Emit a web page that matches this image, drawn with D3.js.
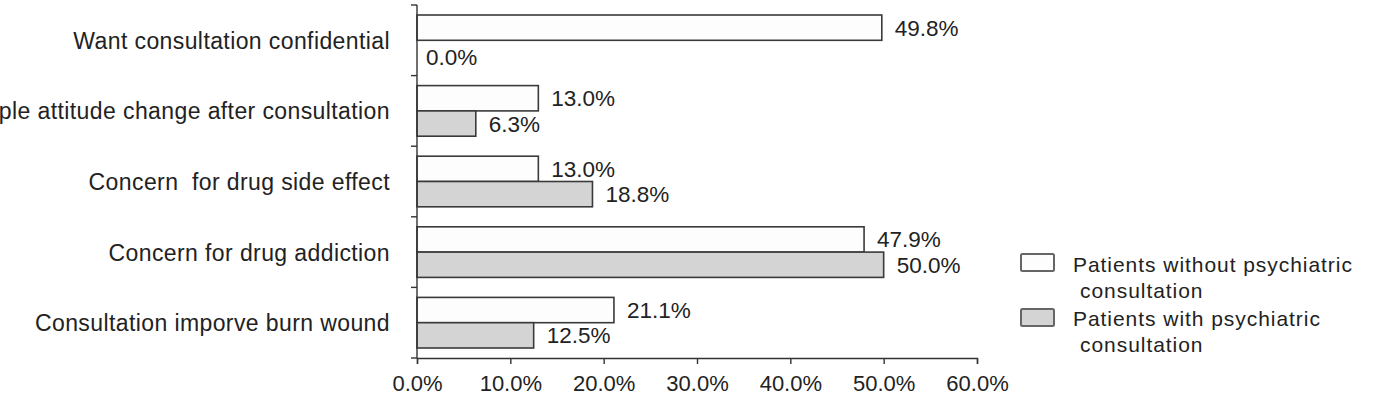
<!DOCTYPE html>
<html>
<head>
<meta charset="utf-8">
<script src="https://cdn.jsdelivr.net/npm/d3@7"></script>
<style>
  html, body { margin: 0; padding: 0; background: #fff; }
  svg { display: block; font-family: "Liberation Sans", Arial, sans-serif; }
  svg text { white-space: pre; }
  .axis text { fill: #222; }
  .axis path, .axis line { stroke: #333; stroke-width: 1.4; }
</style>
</head>
<body>
<div id="chart"></div>
<script>
// Reasons reported, top to bottom
const categories = [
  "Want consultation confidential",
  "People attitude change after consultation",
  "Concern  for drug side effect",
  "Concern for drug addiction",
  "Consultation imporve burn wound"
];
const withoutConsult = [49.8, 13.0, 13.0, 47.9, 21.1];
const withConsult = [0.0, 6.3, 18.8, 50.0, 12.5];
const seriesNames = [
  ["Patients without psychiatric", "consultation"],
  ["Patients with psychiatric", "consultation"]
];
const xTicks = [0, 10, 20, 30, 40, 50, 60];

const W = 1398, H = 396;
const margin = { top: 5, right: 421, bottom: 38, left: 417 };

const svg = d3.select("#chart").append("svg")
  .attr("width", W).attr("height", H);

const x = d3.scaleLinear().domain([0, 60]).range([margin.left, W - margin.right]);
const y = d3.scaleBand().domain(categories).range([margin.top, H - margin.bottom]);
const sub = d3.scaleBand().domain([0, 1]).range([10, y.bandwidth() - 10]);

const series = [
  { values: withoutConsult, fill: "#fdfdfd" },
  { values: withConsult, fill: "#d4d4d4" }
];

// Bars + value labels
series.forEach((s, i) => {
  const g = svg.append("g");
  g.selectAll("rect").data(categories).join("rect")
    .attr("x", x(0))
    .attr("y", d => y(d) + sub(i))
    .attr("width", (d, j) => x(s.values[j]) - x(0))
    .attr("height", sub.bandwidth())
    .attr("fill", s.fill)
    .attr("stroke", "#3a3a3a").attr("stroke-width", 1.6);
  g.selectAll("text").data(categories).join("text")
    .attr("x", (d, j) => x(s.values[j]) + (s.values[j] === 0 ? 9 : 13))
    .attr("y", (d, j) => y(d) + sub(i) + sub.bandwidth() / 2 + (s.values[j] === 0 ? 12 : 8))
    .attr("fill", "#222").attr("font-size", 22.5)
    .text((d, j) => s.values[j].toFixed(1) + "%");
});

// X axis
svg.append("g").attr("class", "axis")
  .attr("transform", `translate(0,${H - margin.bottom})`)
  .call(d3.axisBottom(x).tickValues(xTicks).tickSize(6).tickPadding(11).tickFormat(d => d.toFixed(1) + "%"))
  .call(g => g.selectAll("text").attr("font-size", 22));

// Y axis: ticks on band boundaries, labels centred in bands
const yAxis = svg.append("g").attr("class", "axis")
  .attr("transform", `translate(${margin.left},0)`);
yAxis.append("line")
  .attr("x1", 0).attr("x2", 0)
  .attr("y1", margin.top).attr("y2", H - margin.bottom);
const bounds = categories.map(c => y(c)).concat([H - margin.bottom]);
yAxis.selectAll("line.tk").data(bounds).join("line").attr("class", "tk")
  .attr("x1", -6).attr("x2", 0).attr("y1", d => d).attr("y2", d => d);
yAxis.selectAll("text").data(categories).join("text")
  .attr("x", -27)
  .attr("y", d => y(d) + y.bandwidth() / 2 + 8.5)
  .attr("text-anchor", "end")
  .attr("font-size", 23).attr("letter-spacing", 0.4)
  .text(d => d);

// Legend
const leg = svg.append("g").attr("transform", "translate(1021,254)");
series.forEach((s, i) => {
  const gy = i * 55;
  leg.append("rect")
    .attr("x", 0).attr("y", gy).attr("width", 33).attr("height", 17).attr("rx", 1.5)
    .attr("fill", s.fill).attr("stroke", "#666").attr("stroke-width", 2);
  leg.append("text").attr("x", 52).attr("y", gy + 18 - i)
    .attr("font-size", 21).attr("letter-spacing", 0.95).attr("fill", "#222")
    .text(seriesNames[i][0]);
  leg.append("text").attr("x", 59).attr("y", gy + 44 - i)
    .attr("font-size", 21).attr("letter-spacing", 0.95).attr("fill", "#222")
    .text(seriesNames[i][1]);
});
</script>
</body>
</html>
